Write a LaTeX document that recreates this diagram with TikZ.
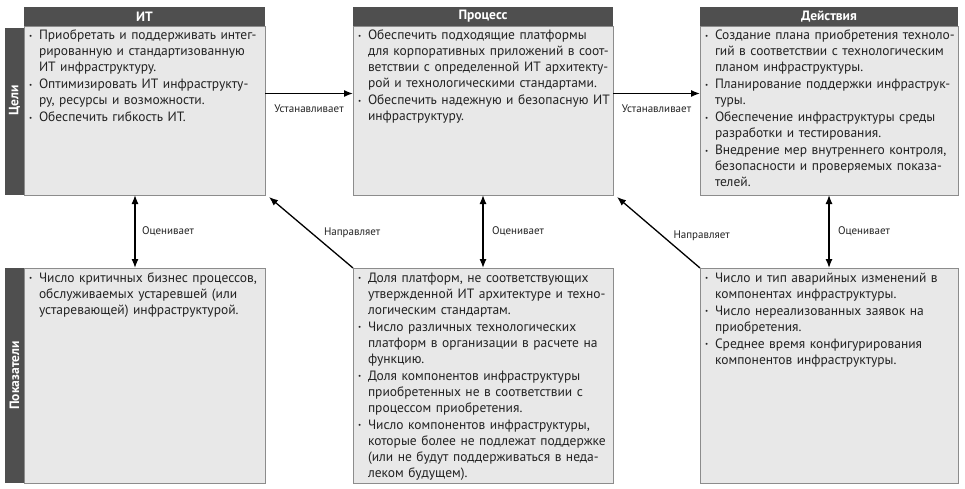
\documentclass[tikz,border=0pt]{standalone}
\usepackage{fontspec}
\setmainfont{PT Sans}
\usetikzlibrary{arrows.meta,positioning}
\definecolor{headgray}{HTML}{4F4F4F}
\definecolor{boxgray}{HTML}{E8E8E8}
\definecolor{edgegray}{HTML}{8C8C8C}
\definecolor{textgray}{HTML}{222222}
\newcommand{\itm}[1]{\par{\leftskip=10pt\parskip=1pt\noindent\hspace*{-10pt}\makebox[10pt][l]{\raisebox{1.5pt}{\scriptsize\textbullet}}#1\par}}

\begin{document}
\begin{tikzpicture}[
    x=1pt, y=-1pt,
    every node/.style={outer sep=0pt},
    frame/.style={draw=edgegray, fill=boxgray, line width=0.6pt, anchor=north west, inner sep=0pt},
    txt/.style={anchor=north west, inner xsep=5pt, inner ysep=0pt, yshift=3pt, text width=#1, align=left, text=textgray, font=\fontsize{13.5}{16}\selectfont},
    head/.style={fill=headgray, text=white, inner sep=0pt, minimum height=19pt, font=\bfseries\fontsize{13.5}{15}\selectfont},
    sidebar/.style={fill=headgray, text=white, inner sep=0pt, minimum height=19pt, rotate=90, anchor=south west, font=\bfseries\fontsize{13.5}{15}\selectfont},
    lbl/.style={inner sep=0pt, text=textgray, font=\fontsize{11}{13}\selectfont},
    arrow/.style={-{Latex[length=9pt,width=7pt]}, line width=1.3pt},
    both/.style={{Latex[length=9pt,width=7pt]}-{Latex[length=9pt,width=7pt]}, line width=1.3pt}
  ]
    \useasboundingbox (0,0) rectangle (965,489);

    % goals row
    \node[frame, minimum width=241pt, minimum height=169pt] (it) at (24,26) {};
    \node[frame, minimum width=260pt, minimum height=169pt] (proc) at (353,26) {};
    \node[frame, minimum width=258pt, minimum height=169pt] (act) at (700,26) {};
    \node[head, minimum width=241pt, above=0pt of it] (itHead) {ИТ};
    \node[head, minimum width=260pt, above=0pt of proc] (procHead) {Процесс};
    \node[head, minimum width=258pt, above=0pt of act] (actHead) {Действия};
    \node[sidebar, minimum width=167pt] (goalsBar) at (it.south west) {\hspace*{22pt}Цели};

    \node[txt=236pt] (itTxt) at (it.north west) {%
      \itm{Приобретать и поддерживать интег-\newline рированную и стандартизованную\newline ИТ инфраструктуру.}
      \itm{Оптимизировать ИТ инфраструкту-\newline ру, ресурсы и возможности.}
      \itm{Обеспечить гибкость ИТ.}};
    \node[txt=255pt] (procTxt) at (proc.north west) {%
      \itm{Обеспечить подходящие платформы\newline для корпоративных приложений в соот-\newline ветствии с определенной ИТ архитекту-\newline рой и технологическими стандартами.}
      \itm{Обеспечить надежную и безопасную ИТ\newline инфраструктуру.}};
    \node[txt=253pt] (actTxt) at (act.north west) {%
      \itm{Создание плана приобретения техноло-\newline гий в соответствии с технологическим\newline планом инфраструктуры.}
      \itm{Планирование поддержки инфраструк-\newline туры.}
      \itm{Обеспечение инфраструктуры среды\newline разработки и тестирования.}
      \itm{Внедрение мер внутреннего контроля,\newline безопасности и проверяемых показа-\newline телей.}};

    % indicators row
    \node[frame, minimum width=241pt, minimum height=215pt] (itKpi) at (24,268) {};
    \node[frame, minimum width=260pt, minimum height=215pt] (procKpi) at (353,268) {};
    \node[frame, minimum width=258pt, minimum height=215pt] (actKpi) at (700,268) {};
    \node[sidebar, minimum width=215pt] (kpiBar) at (itKpi.south west) {Показатели};

    \node[txt=236pt] (itKpiTxt) at (itKpi.north west) {%
      \itm{Число критичных бизнес процессов,\newline обслуживаемых устаревшей (или\newline устаревающей) инфраструктурой.}};
    \node[txt=255pt] (procKpiTxt) at (procKpi.north west) {%
      \itm{Доля платформ, не соответствующих\newline утвержденной ИТ архитектуре и техно-\newline логическим стандартам.}
      \itm{Число различных технологических\newline платформ в организации в расчете на\newline функцию.}
      \itm{Доля компонентов инфраструктуры\newline приобретенных не в соответствии с\newline процессом приобретения.}
      \itm{Число компонентов инфраструктуры,\newline которые более не подлежат поддержке\newline (или не будут поддерживаться в неда-\newline леком будущем).}};
    \node[txt=253pt] (actKpiTxt) at (actKpi.north west) {%
      \itm{Число и тип аварийных изменений в\newline компонентах инфраструктуры.}
      \itm{Число нереализованных заявок на\newline приобретения.}
      \itm{Среднее время конфигурирования\newline компонентов инфраструктуры.}};

    % connectors
    \draw[arrow] ([yshift=17pt]it.east) -- node[lbl, below=11pt] {Устанавливает} ([yshift=17pt]proc.west);
    \draw[arrow] ([yshift=17pt]proc.east) -- node[lbl, below=11pt] {Устанавливает} ([yshift=17pt]act.west);
    \draw[both] ([xshift=-9.5pt]it.south) -- node[lbl, right=7pt] {Оценивает} ([xshift=-9.5pt]itKpi.north);
    \draw[both] (proc.south) -- node[lbl, right=9pt] {Оценивает} (procKpi.north);
    \draw[both] (act.south) -- node[lbl, right=9pt] {Оценивает} (actKpi.north);
    \draw[arrow] (procKpi.north west) -- node[lbl, right=13pt] {Направляет} ([shift={(4pt,-2pt)}]it.south east);
    \draw[arrow] (actKpi.north west) -- node[lbl, right=15pt, yshift=-3pt] {Направляет} ([shift={(4pt,-2pt)}]proc.south east);
  \end{tikzpicture}
\end{document}
